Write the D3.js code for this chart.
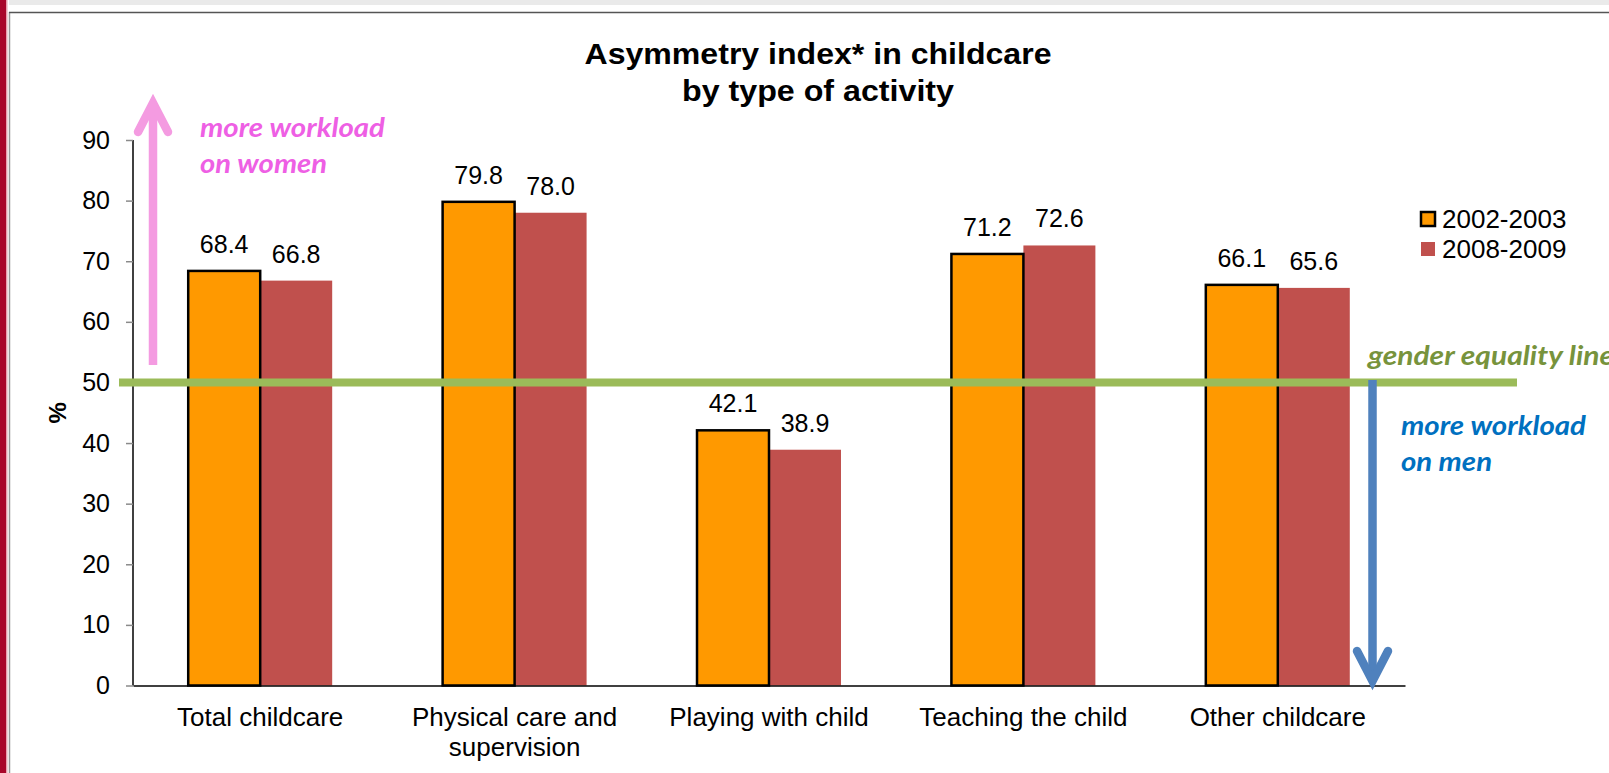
<!DOCTYPE html>
<html>
<head>
<meta charset="utf-8">
<script src="https://cdn.jsdelivr.net/npm/d3@7"></script>
<style>
  html, body { margin: 0; padding: 0; background: #fff; }
  svg { display: block; }
</style>
</head>
<body>
<svg id="chart" width="1609" height="773"></svg>
<script>
// ---- Data ----
const categories = ["Total childcare", "Physical care and\nsupervision", "Playing with child", "Teaching the child", "Other childcare"];
const seriesNames = ["2002-2003", "2008-2009"];
const values2002 = [68.4, 79.8, 42.1, 71.2, 66.1];
const values2008 = [66.8, 78.0, 38.9, 72.6, 65.6];
const yTicks = [0, 10, 20, 30, 40, 50, 60, 70, 80, 90];
const equalityValue = 50;
const titleLines = ["Asymmetry index* in childcare", "by type of activity"];

const colors = { "2002-2003": "#FF9900", "2008-2009": "#C0504D" };
const svg = d3.select("#chart");

// ---- Frame (screenshot border) ----
svg.append("rect").attr("x", 0).attr("y", 0).attr("width", 6).attr("height", 773).attr("fill", "#A8062A");
svg.append("rect").attr("x", 6).attr("y", 0).attr("width", 1.5).attr("height", 773).attr("fill", "#E7A0AE");
svg.append("rect").attr("x", 9).attr("y", 0).attr("width", 1600).attr("height", 5).attr("fill", "#EAEAEA");
svg.append("line").attr("x1", 9.5).attr("x2", 9.5).attr("y1", 12).attr("y2", 773).attr("stroke", "#9a9a9a").attr("stroke-width", 1.5);
svg.append("line").attr("x1", 9).attr("x2", 1609).attr("y1", 12.5).attr("y2", 12.5).attr("stroke", "#555").attr("stroke-width", 1.5);

// ---- Scales ----
const plotLeft = 133, plotRight = 1405, plotTop = 140, plotBottom = 685.5;
const x0 = d3.scaleBand().domain(categories).range([plotLeft, plotRight]).paddingInner(0).paddingOuter(0);
const x1 = d3.scaleBand().domain(seriesNames).range([0, x0.bandwidth()]).paddingInner(0).paddingOuter(0.767);
const y = d3.scaleLinear().domain([0, 90]).range([plotBottom, plotTop]);

// ---- Title ----
const titleFont = "'Liberation Sans', Arial, sans-serif";
const title = svg.append("g");
title.append("text").attr("x", 818).attr("y", 63.5).attr("text-anchor", "middle")
  .attr("font-family", titleFont).attr("font-weight", "bold").attr("font-size", 29.5)
  .attr("textLength", 467).attr("lengthAdjust", "spacingAndGlyphs").text(titleLines[0]);
title.append("text").attr("x", 818).attr("y", 100.5).attr("text-anchor", "middle")
  .attr("font-family", titleFont).attr("font-weight", "bold").attr("font-size", 29.5)
  .attr("textLength", 272).attr("lengthAdjust", "spacingAndGlyphs").text(titleLines[1]);

// ---- Bars ----
const data = categories.map((c, i) => ({ cat: c, vals: [
  { s: seriesNames[0], v: values2002[i] },
  { s: seriesNames[1], v: values2008[i] }
]}));

const groups = svg.append("g").selectAll("g").data(data).join("g")
  .attr("transform", d => `translate(${x0(d.cat)},0)`);

// red first so orange stroke sits on top
groups.selectAll("rect.bar").data(d => d.vals.slice().reverse()).join("rect")
  .attr("class", "bar")
  .attr("x", d => x1(d.s))
  .attr("y", d => y(d.v))
  .attr("width", x1.bandwidth())
  .attr("height", d => y(0) - y(d.v))
  .attr("fill", d => colors[d.s])
  .attr("stroke", d => d.s === seriesNames[0] ? "#000" : "none")
  .attr("stroke-width", 2.5);

groups.selectAll("text.val").data(d => d.vals).join("text")
  .attr("class", "val")
  .attr("x", d => x1(d.s) + x1.bandwidth() / 2)
  .attr("y", d => y(d.v) - 18)
  .attr("text-anchor", "middle")
  .attr("font-family", titleFont).attr("font-size", 25).attr("fill", "#000")
  .text(d => d.v.toFixed(1));

// ---- Y axis ----
const yAxis = svg.append("g").attr("transform", `translate(${plotLeft},0)`)
  .call(d3.axisLeft(y).tickValues(yTicks).tickSize(7).tickPadding(16).tickFormat(d3.format("d")));
yAxis.select(".domain").attr("stroke", "#000").attr("stroke-width", 1.5).attr("d", `M0,${plotTop}V${plotBottom}`);
yAxis.selectAll(".tick line").attr("stroke", "#8a8a8a").attr("stroke-width", 1.5);
yAxis.selectAll(".tick text").attr("font-family", titleFont).attr("font-size", 25).attr("fill", "#000");

svg.append("text")
  .attr("transform", `translate(66,${(plotTop + plotBottom) / 2}) rotate(-90)`)
  .attr("text-anchor", "middle")
  .attr("font-family", titleFont).attr("font-weight", "bold").attr("font-size", 24)
  .text("%");

// ---- X axis ----
const xAxis = svg.append("g").attr("transform", `translate(0,${plotBottom})`)
  .call(d3.axisBottom(x0).tickSize(0).tickPadding(0));
xAxis.select(".domain").attr("stroke", "#000").attr("stroke-width", 1.5);
xAxis.selectAll(".tick text").each(function(d) {
  const t = d3.select(this);
  t.text(null).attr("y", 0).attr("dy", null)
    .attr("font-family", titleFont).attr("font-size", 26).attr("fill", "#000");
  d.split("\n").forEach((line, i) => {
    t.append("tspan").attr("x", 0).attr("y", 40.5 + i * 29.5).text(line);
  });
});

// ---- Gender equality line ----
svg.append("line")
  .attr("x1", 119).attr("x2", 1517)
  .attr("y1", y(equalityValue)).attr("y2", y(equalityValue))
  .attr("stroke", "#9BBB59").attr("stroke-width", 8);

// ---- Arrows ----
const annFont = "Lato, 'Open Sans', sans-serif";
const pink = "#F49BE1";
svg.append("line").attr("x1", 153).attr("x2", 153).attr("y1", 365).attr("y2", 104)
  .attr("stroke", pink).attr("stroke-width", 8.5);
svg.append("path").attr("d", "M138,132 L153,103 L168,132")
  .attr("fill", "none").attr("stroke", pink).attr("stroke-width", 8.5)
  .attr("stroke-linecap", "round").attr("stroke-linejoin", "miter");

const blue = "#4F81BD";
svg.append("line").attr("x1", 1372.5).attr("x2", 1372.5).attr("y1", 380).attr("y2", 678)
  .attr("stroke", blue).attr("stroke-width", 8.5);
svg.append("path").attr("d", "M1357,651 L1372.5,681 L1388,651")
  .attr("fill", "none").attr("stroke", blue).attr("stroke-width", 8.5)
  .attr("stroke-linecap", "round").attr("stroke-linejoin", "miter");

// ---- Annotations ----
function ann(txt, x, yy, w, color) {
  svg.append("text").attr("x", x).attr("y", yy)
    .attr("font-family", annFont).attr("font-style", "italic").attr("font-weight", "bold")
    .attr("font-size", 27).attr("fill", color)
    .attr("textLength", w).attr("lengthAdjust", "spacingAndGlyphs").text(txt);
}
ann("more workload", 200, 137, 185, "#EE5FE4");
ann("on women", 200, 173, 127, "#EE5FE4");
ann("gender equality line", 1368, 365, 246, "#77933C");
ann("more workload", 1401, 435, 185, "#0070C0");
ann("on men", 1401, 471, 91, "#0070C0");

// ---- Legend ----
const legend = svg.append("g");
seriesNames.forEach((s, i) => {
  const ly = 212 + i * 30;
  legend.append("rect").attr("x", 1421).attr("y", ly).attr("width", 14).attr("height", 14)
    .attr("fill", colors[s])
    .attr("stroke", i === 0 ? "#000" : "none").attr("stroke-width", 2.5);
  legend.append("text").attr("x", 1442).attr("y", ly + 15.5)
    .attr("font-family", titleFont).attr("font-size", 26).attr("fill", "#000").text(s);
});
</script>
</body>
</html>
